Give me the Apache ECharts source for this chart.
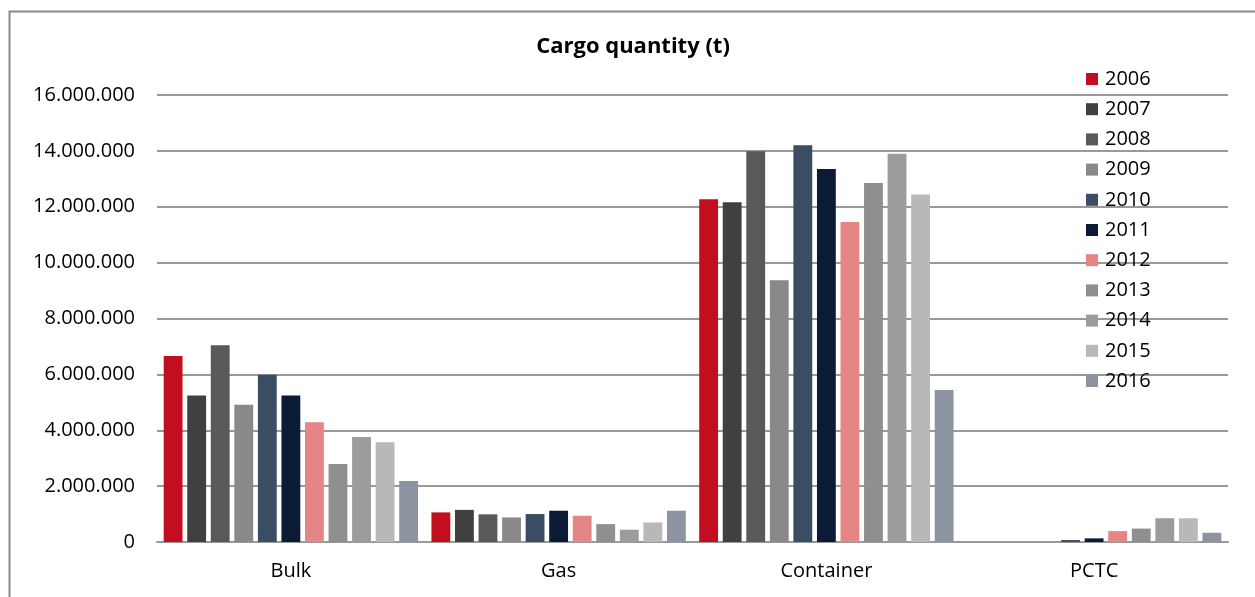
<!DOCTYPE html>
<html>
<head>
<meta charset="utf-8">
<title>Cargo quantity (t)</title>
<script src="https://cdn.jsdelivr.net/npm/echarts@6/dist/echarts.min.js"></script>
<style>
  html, body { margin: 0; padding: 0; background: #ffffff; }
  #chart { width: 1255px; height: 597px; }
</style>
</head>
<body>
<div id="chart"></div>
<script>
// Cargo types on the x axis
const categories = ['Bulk', 'Gas', 'Container', 'PCTC'];

// Yearly cargo quantity in tonnes, per cargo type (Bulk, Gas, Container, PCTC)
const years = ['2006', '2007', '2008', '2009', '2010', '2011', '2012', '2013', '2014', '2015', '2016'];
const y2006 = [6660000, 1060000, 12270000, 0];
const y2007 = [5240000, 1150000, 12160000, 0];
const y2008 = [7040000, 990000, 13990000, 0];
const y2009 = [4910000, 880000, 9370000, 0];
const y2010 = [5990000, 1000000, 14200000, 70000];
const y2011 = [5240000, 1120000, 13350000, 130000];
const y2012 = [4290000, 940000, 11450000, 390000];
const y2013 = [2790000, 640000, 12850000, 480000];
const y2014 = [3760000, 440000, 13900000, 850000];
const y2015 = [3570000, 700000, 12440000, 850000];
const y2016 = [2180000, 1120000, 5440000, 330000];
const seriesValues = [y2006, y2007, y2008, y2009, y2010, y2011, y2012, y2013, y2014, y2015, y2016];

// One colour per year
const yearColors = ['#C20E1F', '#404040', '#595959', '#898989', '#3A4D63', '#0B1A35',
                    '#E58586', '#8F8F8F', '#9C9C9C', '#B8B8B8', '#8C94A1'];

// Value axis
const yMin = 0;
const yMax = 16000000;
const yStep = 2000000;

const FONT = '"Open Sans", "Liberation Sans", sans-serif';

function formatThousands(v) {
  return String(Math.round(v)).replace(/\B(?=(\d{3})+(?!\d))/g, '.');
}

const chart = echarts.init(document.getElementById('chart'), null, { renderer: 'canvas' });

chart.setOption({
  animation: false,
  backgroundColor: '#ffffff',
  color: yearColors,
  textStyle: { fontFamily: FONT },
  graphic: [{
    type: 'rect',
    left: 7, top: 9,
    shape: { width: 1270, height: 620 },
    style: { fill: 'none', stroke: '#8a8a8a', lineWidth: 2 },
    silent: true, z: -1
  }],
  title: {
    text: 'Cargo quantity (t)',
    left: 628, top: 31,
    textAlign: 'center',
    textStyle: { fontFamily: FONT, fontSize: 22, fontWeight: 'bold', color: '#000000' }
  },
  legend: {
    orient: 'vertical',
    left: 1081, top: 64,
    itemWidth: 12, itemHeight: 12,
    itemGap: 10.2,
    icon: 'rect',
    data: years,
    textStyle: { fontFamily: FONT, fontSize: 20, color: '#000000', lineHeight: 20, padding: [0, 0, 0, 2] }
  },
  grid: { left: 157, right: 27, top: 95, bottom: 55, containLabel: false },
  xAxis: {
    type: 'category',
    data: categories,
    axisLine: { show: true, lineStyle: { color: '#999999', width: 2 } },
    axisTick: { show: false },
    axisLabel: { fontFamily: FONT, fontSize: 20, color: '#000000', margin: 19 }
  },
  yAxis: {
    type: 'value',
    min: yMin, max: yMax, interval: yStep,
    axisLine: { show: false },
    axisTick: { show: false },
    splitLine: { lineStyle: { color: '#999999', width: 2 } },
    axisLabel: { fontFamily: FONT, fontSize: 20, color: '#000000', margin: 22, formatter: formatThousands }
  },
  series: years.map((yr, i) => ({
    name: yr,
    type: 'bar',
    data: seriesValues[i],
    barGap: '25%',
    barCategoryGap: '5%',
    itemStyle: { color: yearColors[i] }
  }))
});
</script>
</body>
</html>
